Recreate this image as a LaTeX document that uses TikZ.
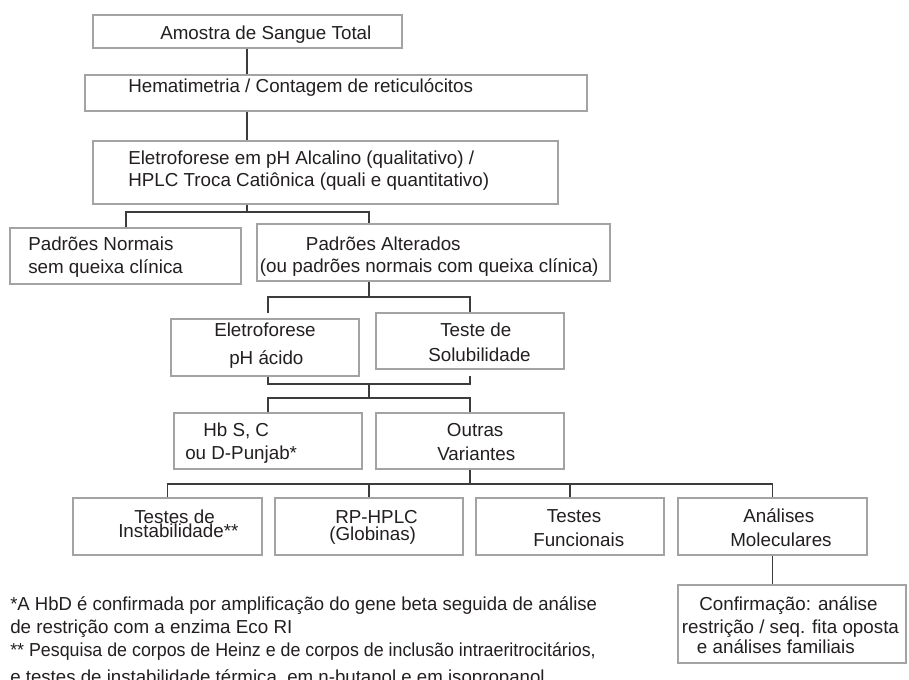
\documentclass[tikz,border=0pt]{standalone}
\usepackage{fontspec}
\setmainfont{Liberation Sans}
\usetikzlibrary{fit}
\definecolor{boxgray}{HTML}{A3A3A3}
\definecolor{linegray}{HTML}{3C3C3C}
\definecolor{txt}{HTML}{231F20}
\begin{document}
\begin{tikzpicture}[x=0.75pt,y=-0.75pt,
  box/.style={draw=boxgray, line width=1.1pt, inner sep=0pt},
  conn/.style={draw=linegray, line width=0.95pt},
  lbl/.style={anchor=base west, inner sep=0pt, text=txt, font=\fontsize{14.1pt}{16pt}\selectfont}]
\fill[white] (0,0) rectangle (909,679);
\useasboundingbox (0,0) rectangle (909,679);
% boxes
\node[box, fit={(93,15) (402,48)}] (b1) {};
\node[box, fit={(85,75) (587,111)}] (b2) {};
\node[box, fit={(93,141) (558,204)}] (b3) {};
\node[box, fit={(10,228) (241,284)}] (b4) {};
\node[box, fit={(257,224) (610,281)}] (b5) {};
\node[box, fit={(171,319) (359,376)}] (b6) {};
\node[box, fit={(376,313) (564,369)}] (b7) {};
\node[box, fit={(174,413) (362,469)}] (b8) {};
\node[box, fit={(376,413) (564,469)}] (b9) {};
\node[box, fit={(73,498) (262,555)}] (b10) {};
\node[box, fit={(275,498) (463,555)}] (b11) {};
\node[box, fit={(476,498) (664,555)}] (b12) {};
\node[box, fit={(678,498) (867,555)}] (b13) {};
\node[box, fit={(678,585) (906,663)}] (b14) {};
% texts
\node[lbl] (t1) at (160,39) {Amostra de Sangue Total};
\node[lbl] (t2) at (128,92) {Hematimetria / Contagem de reticulócitos};
\node[lbl] (t3a) at (128,164) {Eletroforese em pH Alcalino (qualitativo) /};
\node[lbl] (t3b) at (128,186.5) {HPLC Troca Catiônica (quali e quantitativo)};
\node[lbl] (t4a) at (28,250.5) {Padrões Normais};
\node[lbl] (t4b) at (28,273) {sem queixa clínica};
\node[lbl] (t5a) at (305.7,250.5) {Padrões Alterados};
\node[lbl] (t5b) at (259.7,272.5) {(ou padrões normais com queixa clínica)};
\node[lbl] (t6a) at (214,336) {Eletroforese};
\node[lbl] (t6b) at (229,364) {pH ácido};
\node[lbl] (t7a) at (440,336) {Teste de};
\node[lbl] (t7b) at (428,361.5) {Solubilidade};
\node[lbl] (t8a) at (203,436.5) {Hb S, C};
\node[lbl] (t8b) at (185,459) {ou D-Punjab*};
\node[lbl] (t9a) at (446.7,436.5) {Outras};
\node[lbl] (t9b) at (437,460) {Variantes};
\node[lbl] (t10a) at (134,523) {Testes de};
\node[lbl] (t10b) at (118,537) {Instabilidade**};
\node[lbl] (t11a) at (335,523) {RP-HPLC};
\node[lbl] (t11b) at (329,540) {(Globinas)};
\node[lbl] (t12a) at (546.7,522.7) {Testes};
\node[lbl] (t12b) at (533,546) {Funcionais};
\node[lbl] (t13a) at (743,522.7) {Análises};
\node[lbl] (t13b) at (730,546) {Moleculares};
\node[lbl] (t14a) at (699,610) {Confirmação: análise};
\node[lbl] (t14b) at (681.7,633) {restrição / seq. fita oposta};
\node[lbl] (t14c) at (696.7,653) {e análises familiais};
\node[lbl] (f1) at (10,610) {\scalebox{0.985}[1]{*A HbD é confirmada por amplificação do gene beta seguida de análise}};
\node[lbl] (f2) at (10,633) {de restrição com a enzima Eco RI};
\node[lbl] (f3) at (10,656) {\scalebox{0.948}[1]{** Pesquisa de corpos de Heinz e de corpos de inclusão intraeritrocitários,}};
\node[lbl] (f4) at (10,683) {\scalebox{0.993}[1]{e testes de instabilidade térmica, em n-butanol e em isopropanol}};
% junction coordinates
\coordinate (ja) at (247,0);
\coordinate (h1) at (247,212);
\coordinate (h1l) at (126,212);
\coordinate (h1r) at (369,212);
\coordinate (h2) at (369,297);
\coordinate (h2l) at (268,297);
\coordinate (h2r) at (470,297);
\coordinate (e6) at (268,313);
\coordinate (h3) at (369,384);
\coordinate (h3l) at (268,384);
\coordinate (h3r) at (470,384);
\coordinate (s7) at (470,376);
\coordinate (h4) at (369,398);
\coordinate (h4l) at (268,398);
\coordinate (h4r) at (470,398);
\coordinate (h5) at (470,484);
\coordinate (h5a) at (167.5,484);
\coordinate (h5b) at (369,484);
\coordinate (h5c) at (570,484);
\coordinate (h5d) at (772.5,484);
% connectors
\draw[conn] (b1.south -| ja) -- (b2.north -| ja);
\draw[conn] (b2.south -| ja) -- (b3.north -| ja);
\draw[conn] (b3.south -| h1) -- (h1);
\draw[conn] (b4.north -| h1l) -- (h1l) -- (h1r) -- (b5.north -| h1r);
\draw[conn] (b5.south -| h2) -- (h2);
\draw[conn] (e6) -- (h2l) -- (h2r) -- (b7.north -| h2r);
\draw[conn] (b6.south -| h3l) -- (h3l) -- (h3r) -- (s7);
\draw[conn] (h3) -- (h4);
\draw[conn] (b8.north -| h4l) -- (h4l) -- (h4r) -- (b9.north -| h4r);
\draw[conn] (b9.south -| h5) -- (h5);
\draw[conn] (b10.north -| h5a) -- (h5a) -- (h5d) -- (b13.north -| h5d);
\draw[conn] (h5b) -- (b11.north -| h5b);
\draw[conn] (h5c) -- (b12.north -| h5c);
\draw[conn] (b13.south -| h5d) -- (b14.north -| h5d);
\end{tikzpicture}
\end{document}
